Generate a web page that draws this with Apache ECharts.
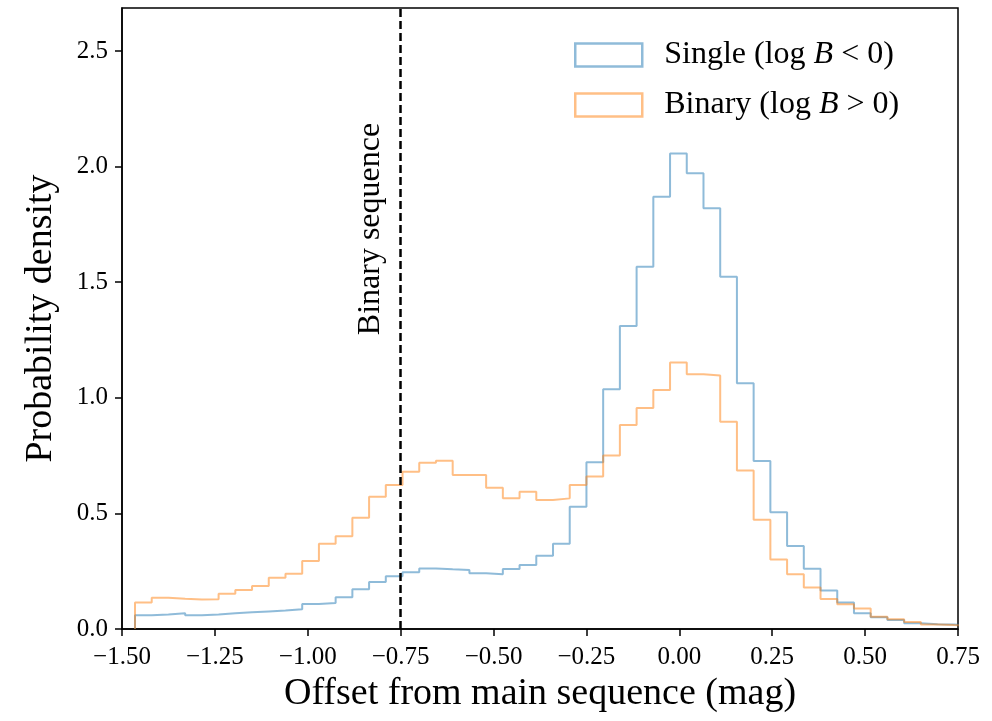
<!DOCTYPE html>
<html>
<head>
<meta charset="utf-8">
<script src="https://cdn.jsdelivr.net/npm/echarts@6/dist/echarts.min.js"></script>
<style>
    html, body { margin: 0; padding: 0; background: #ffffff; }
    #chart { width: 992px; height: 721px; }
</style>
</head>
<body>
<div id="chart"></div>
<script>
// histogram bin edges (mag), 50 bins of width 0.045
const binEdges = [
    -1.465, -1.420, -1.375, -1.330, -1.285, -1.240, -1.195, -1.150, -1.105, -1.060,
    -1.015, -0.970, -0.925, -0.880, -0.835, -0.790, -0.745, -0.700, -0.655, -0.610,
    -0.565, -0.520, -0.475, -0.430, -0.385, -0.340, -0.295, -0.250, -0.205, -0.160,
    -0.115, -0.070, -0.025, 0.020, 0.065, 0.110, 0.155, 0.200, 0.245, 0.290,
    0.335, 0.380, 0.425, 0.470, 0.515, 0.560, 0.605, 0.650, 0.695, 0.740, 0.785
];

// Single (log B < 0)
const singleDensity = [
    0.059, 0.063, 0.068, 0.059, 0.063, 0.068, 0.072, 0.076, 0.080, 0.085,
    0.108, 0.112, 0.137, 0.172, 0.203, 0.228, 0.245, 0.262, 0.258, 0.255,
    0.241, 0.237, 0.260, 0.277, 0.317, 0.369, 0.529, 0.721, 1.037, 1.311,
    1.567, 1.870, 2.057, 1.971, 1.820, 1.524, 1.063, 0.727, 0.505, 0.359,
    0.261, 0.166, 0.115, 0.068, 0.051, 0.039, 0.025, 0.021, 0.019, 0.016
];

// Binary (log B > 0)
const binaryDensity = [
    0.115, 0.135, 0.131, 0.128, 0.129, 0.153, 0.169, 0.186, 0.222, 0.239,
    0.294, 0.369, 0.401, 0.481, 0.572, 0.623, 0.680, 0.719, 0.728, 0.666,
    0.666, 0.611, 0.565, 0.594, 0.558, 0.565, 0.623, 0.660, 0.750, 0.882,
    0.956, 1.034, 1.153, 1.102, 1.096, 0.896, 0.686, 0.473, 0.301, 0.237,
    0.179, 0.130, 0.107, 0.089, 0.053, 0.042, 0.030, 0.020, 0.017, 0.015
];

const seriesNames = ['Single (log B < 0)', 'Binary (log B > 0)'];
const binarySequence = -0.75;

const serif = '"Liberation Serif", "DejaVu Serif", serif';
const blue = 'rgba(31, 119, 180, 0.5)';
const orange = 'rgba(255, 127, 14, 0.5)';

// turn bins into the outline points of a step histogram
function stepPoints(edges, values) {
    let pts = [[edges[0], 0]];
    for (let i = 0; i < values.length; i++) {
        pts.push([edges[i], values[i]]);
    }
    pts.push([edges[values.length], values[values.length - 1]]);
    pts.push([edges[values.length], 0]);
    return pts;
}

function legendLabel(name) {
    return name.replace(' B ', ' {it|B} ');
}

const chart = echarts.init(document.getElementById('chart'));

let option = {
    animation: false,
    grid: {
        left: 122, right: 34, top: 8, bottom: 92,
        show: true,
        borderColor: '#000',
        borderWidth: 1.5
    },
    legend: {
        orient: 'vertical',
        left: 569,
        top: 34,
        icon: 'rect',
        itemWidth: 67,
        itemHeight: 23,
        itemGap: 18,
        lineStyle: { width: 0, opacity: 0 },
        formatter: legendLabel,
        textStyle: {
            fontFamily: serif,
            fontSize: 32,
            lineHeight: 32,
            color: '#000',
            padding: [0, 0, 0, 17],
            rich: {
                it: { fontFamily: serif, fontSize: 32, fontStyle: 'italic', color: '#000' }
            }
        },
        data: [
            { name: seriesNames[0], itemStyle: { color: 'rgba(0,0,0,0)', borderColor: blue, borderWidth: 2.5 } },
            { name: seriesNames[1], itemStyle: { color: 'rgba(0,0,0,0)', borderColor: orange, borderWidth: 2.5 } }
        ]
    },
    xAxis: {
        type: 'value',
        min: -1.5,
        max: 0.75,
        interval: 0.25,
        name: 'Offset from main sequence (mag)',
        nameLocation: 'middle',
        nameGap: 44,
        nameTextStyle: { fontFamily: serif, fontSize: 38, color: '#000' },
        axisLine: { onZero: false, lineStyle: { color: '#000', width: 1.5 } },
        axisTick: { show: true, inside: false, length: 7, lineStyle: { color: '#000', width: 1.5 } },
        axisLabel: {
            fontFamily: serif, fontSize: 25, color: '#000', margin: 16,
            formatter: v => (v < 0 ? '\u2212' : '') + Math.abs(v).toFixed(2)
        },
        splitLine: { show: false }
    },
    yAxis: {
        type: 'value',
        min: 0,
        max: 2.686,
        interval: 0.5,
        name: 'Probability density',
        nameLocation: 'middle',
        nameGap: 62,
        nameTextStyle: { fontFamily: serif, fontSize: 38, color: '#000' },
        axisLine: { show: true, onZero: false, lineStyle: { color: '#000', width: 1.5 } },
        axisTick: { show: true, inside: false, length: 7, lineStyle: { color: '#000', width: 1.5 } },
        axisLabel: {
            fontFamily: serif, fontSize: 25, color: '#000', margin: 14,
            showMaxLabel: false,
            formatter: v => (Math.abs(v * 2 - Math.round(v * 2)) < 1e-6 ? v.toFixed(1) : '')
        },
        splitLine: { show: false }
    },
    series: [
        {
            name: seriesNames[0],
            type: 'line',
            step: 'end',
            symbol: 'none',
            data: stepPoints(binEdges, singleDensity),
            lineStyle: { color: blue, width: 2 },
            itemStyle: { color: blue },
            markLine: {
                silent: true,
                symbol: 'none',
                label: { show: false },
                lineStyle: { color: '#000', width: 2.5, type: [8, 4] },
                data: [{ xAxis: binarySequence }]
            }
        },
        {
            name: seriesNames[1],
            type: 'line',
            step: 'end',
            symbol: 'none',
            data: stepPoints(binEdges, binaryDensity),
            lineStyle: { color: orange, width: 2 },
            itemStyle: { color: orange }
        }
    ]
};

chart.setOption(option);

// rotated label next to the dashed line
let p = chart.convertToPixel({ gridIndex: 0 }, [binarySequence, 1.73]);
chart.setOption({
    graphic: [{
        type: 'text',
        x: p[0] - 30,
        y: p[1],
        rotation: Math.PI / 2,
        style: {
            text: 'Binary sequence',
            fontFamily: serif,
            fontSize: 32,
            fill: '#000',
            align: 'center',
            verticalAlign: 'middle'
        }
    }]
});
</script>
</body>
</html>
